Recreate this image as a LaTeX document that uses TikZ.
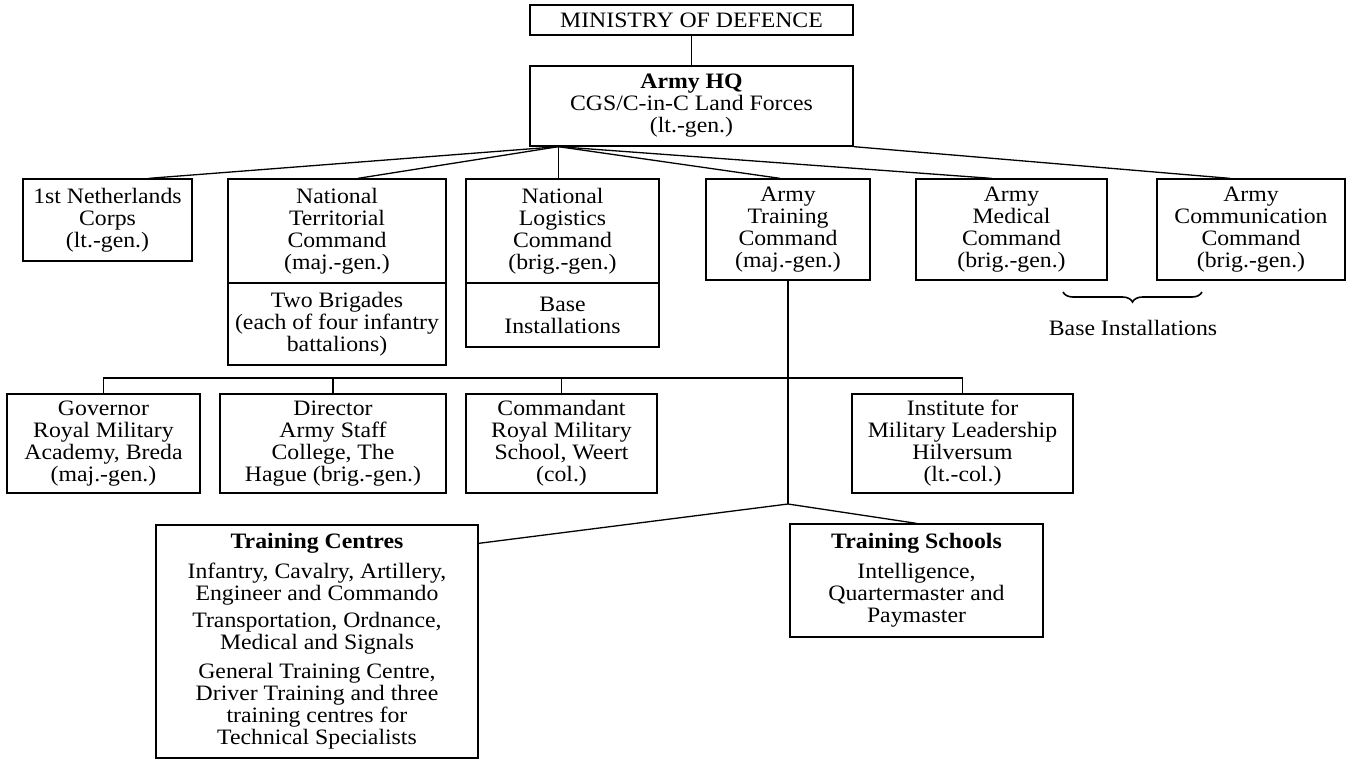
\documentclass[tikz,border=0pt]{standalone}
\usepackage{fontspec}
\setmainfont{Liberation Serif}[FakeStretch=1.08]
\usetikzlibrary{decorations.pathreplacing}
\begin{document}
\begin{tikzpicture}[x=1pt,y=-1pt,line width=1.3pt,
  box/.style={draw,align=center,inner sep=0pt,font=\fontsize{22}{22}\selectfont},
  lbl/.style={align=center,inner sep=0pt,font=\fontsize{22}{22}\selectfont}]
\useasboundingbox (0,0) rectangle (1355,761);
% top
\node[box,minimum width=323pt,minimum height=30pt] (mod) at (691.5,20) {MINISTRY OF DEFENCE};
\node[box,minimum width=323pt,minimum height=80pt] (hq) at (691.5,106) {\textbf{Army HQ}\\CGS/C-in-C Land Forces\\(lt.-gen.)};
\draw (mod.south) -- (hq.north);
% commands
\node[box,minimum width=169pt,minimum height=82pt] (corps) at (107.5,220) {1st Netherlands\\Corps\\(lt.-gen.)};
\node[box,minimum width=218pt,minimum height=104pt] (ntc) at (337,231) {National\\Territorial\\Command\\(maj.-gen.)};
\node[box,minimum width=218pt,minimum height=82pt] (ntcsub) at (337,324) {Two Brigades\\(each of four infantry\\battalions)};
\node[box,minimum width=193pt,minimum height=104pt] (nlc) at (562.5,231) {National\\Logistics\\Command\\(brig.-gen.)};
\node[box,minimum width=193pt,minimum height=64pt] (nlcsub) at (562.5,315) {Base\\Installations};
\node[box,minimum width=164pt,minimum height=101pt] (atc) at (788,229.5) {Army\\Training\\Command\\(maj.-gen.)};
\node[box,minimum width=191pt,minimum height=101pt] (amc) at (1011.5,229.5) {Army\\Medical\\Command\\(brig.-gen.)};
\node[box,minimum width=188pt,minimum height=101pt] (acc) at (1251,229.5) {Army\\Communication\\Command\\(brig.-gen.)};
\coordinate (hqfan) at ([xshift=29pt]hq.south west);
\draw (hqfan) -- ([xshift=-44pt]corps.north east);
\draw (hqfan) -- ([xshift=21pt]ntc.north);
\draw (hqfan) -- (hqfan |- nlc.north);
\draw (hqfan) -- ([xshift=-8pt]atc.north);
\draw (hqfan) -- ([xshift=-20pt]amc.north);
\draw (hq.south east) -- ([xshift=-21pt]acc.north);
\draw[decorate,decoration={brace,mirror,amplitude=10pt},line width=1.6pt] (1063,292) -- (1202,292);
\node[lbl] (baseinst) at (1133,328) {Base Installations};
% training command
\node[box,minimum width=193pt,minimum height=99pt] (gov) at (103.5,443.5) {Governor\\Royal Military\\Academy, Breda\\(maj.-gen.)};
\node[box,minimum width=226pt,minimum height=99pt] (dir) at (333,443.5) {Director\\Army Staff\\College, The\\Hague (brig.-gen.)};
\node[box,minimum width=191pt,minimum height=99pt] (com) at (561.5,443.5) {Commandant\\Royal Military\\School, Weert\\(col.)};
\node[box,minimum width=221pt,minimum height=99pt] (ins) at (962.5,443.5) {Institute for\\Military Leadership\\Hilversum\\(lt.-col.)};
\coordinate (bar) at (0,378);
\draw (gov.north) -- (gov.north |- bar) -- (ins.north |- bar) -- (ins.north);
\draw (dir.north) -- (dir.north |- bar);
\draw (com.north) -- (com.north |- bar);
\node[box,minimum width=322pt,minimum height=233pt] (tcen) at (317,641.5) {\textbf{Training Centres}\\[8pt]Infantry, Cavalry, Artillery,\\Engineer and Commando\\[5pt]Transportation, Ordnance,\\Medical and Signals\\[7pt]General Training Centre,\\Driver Training and three\\training centres for\\Technical Specialists};
\node[box,minimum width=253pt,minimum height=113pt] (tsch) at (916.5,580.5) {\textbf{Training Schools}\\[8pt]Intelligence,\\Quartermaster and\\Paymaster};
\coordinate (split) at (788,504);
\draw (atc.south) -- (split);
\draw (split) -- ([yshift=-19pt]tcen.north east);
\draw (split) -- (tsch.north);
\end{tikzpicture}
\end{document}
